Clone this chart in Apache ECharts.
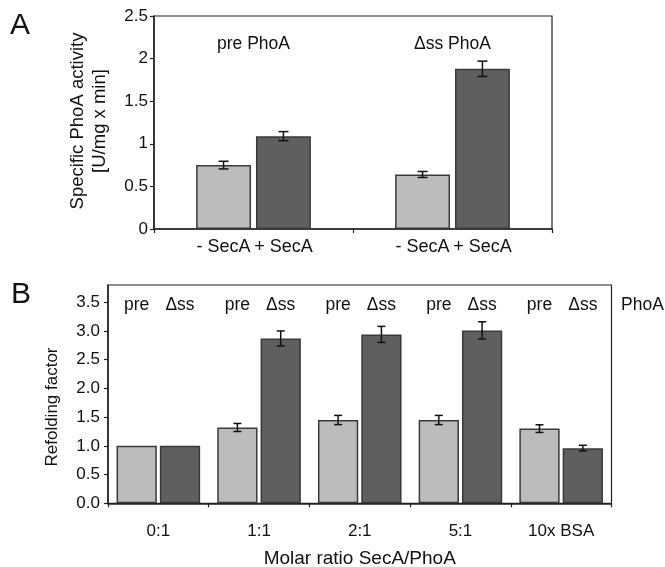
<!DOCTYPE html>
<html>
<head>
<meta charset="utf-8">
<script src="https://cdn.jsdelivr.net/npm/echarts@6/dist/echarts.min.js"></script>
<style>
  html, body { margin: 0; padding: 0; background: #fff; }
  #main { width: 665px; height: 567px; }
</style>
</head>
<body>
<div id="main"></div>
<script>
  // panel A - specific activity
  var groupsA = ['pre PhoA', '\u0394ss PhoA'];
  var subLabelsA = ['- SecA', '+ SecA'];
  var minusSecA = [0.75, 0.64];
  var minusSecAErr = [0.045, 0.035];
  var plusSecA = [1.09, 1.88];
  var plusSecAErr = [0.053, 0.09];
  var ticksA = [0, 0.5, 1, 1.5, 2, 2.5];

  // panel B - refolding factor
  var ratiosB = ['0:1', '1:1', '2:1', '5:1', '10x BSA'];
  var kindsB = ['pre', '\u0394ss'];
  var preB = [1.0, 1.32, 1.45, 1.45, 1.30];
  var preBErr = [0, 0.07, 0.08, 0.08, 0.067];
  var dssB = [1.0, 2.87, 2.94, 3.01, 0.96];
  var dssBErr = [0, 0.13, 0.14, 0.15, 0.05];
  var ticksB = [0, 0.5, 1, 1.5, 2, 2.5, 3, 3.5];

  var FONT = 'Liberation Sans, Arial, sans-serif';
  var LIGHT = '#bcbcbc';
  var DARK = '#5f5f5f';
  var EDGE = '#3a3a3a';
  var AXIS = '#222';

  // bar widths as fraction of the band, gap as fraction of bar width
  var barA = { w: 0.276, gap: 0.09 };
  var barB = { w: 0.40, gap: 0.075 };

  function barOffset(api, bar, side) {
    var bw = api.size([1, 0])[0];
    var w = bw * bar.w;
    return side * w * (1 + bar.gap) / 2;
  }

  function errorSeries(idx, values, errs, bar, side, capW) {
    return {
      type: 'custom',
      xAxisIndex: idx,
      yAxisIndex: idx,
      z: 5,
      data: values.map(function (v, i) { return [i, v, errs[i]]; }),
      renderItem: function (params, api) {
        var i = api.value(0), v = api.value(1), e = api.value(2);
        if (!e) return null;
        var x = api.coord([i, v])[0] + barOffset(api, bar, side);
        var yT = api.coord([i, v + e])[1];
        var yB = api.coord([i, v - e])[1];
        var st = { stroke: '#111', lineWidth: 1.5 };
        return {
          type: 'group',
          children: [
            { type: 'line', shape: { x1: x, y1: yT, x2: x, y2: yB }, style: st },
            { type: 'line', shape: { x1: x - capW / 2, y1: yT, x2: x + capW / 2, y2: yT }, style: st },
            { type: 'line', shape: { x1: x - capW / 2, y1: yB, x2: x + capW / 2, y2: yB }, style: st }
          ]
        };
      }
    };
  }

  function barSeries(idx, values, color, bar) {
    return {
      type: 'bar',
      xAxisIndex: idx,
      yAxisIndex: idx,
      data: values,
      barWidth: (bar.w * 100) + '%',
      barGap: (bar.gap * 100) + '%',
      itemStyle: { color: color, borderColor: EDGE, borderWidth: 1.5 },
      silent: true
    };
  }

  // texts placed per category: [catIndex, yValue, side, text, pixel dy]
  function textSeries(idx, items, bar, size) {
    return {
      type: 'custom',
      xAxisIndex: idx,
      yAxisIndex: idx,
      z: 6,
      clip: false,
      data: items.map(function (it) { return [it[0], it[1]]; }),
      renderItem: function (params, api) {
        var it = items[params.dataIndex];
        var p = api.coord([api.value(0), api.value(1)]);
        var dx = it[2] ? barOffset(api, bar, it[2]) : 0;
        return {
          type: 'text',
          x: p[0] + dx,
          y: p[1] + (it[4] || 0),
          style: {
            text: it[3], fill: '#111', font: size + 'px ' + FONT,
            align: 'center', verticalAlign: 'middle'
          }
        };
      }
    };
  }

  var groupLabelsA = groupsA.map(function (g, i) { return [i, 2.17, 0, g]; });
  var subLabelItemsA = [];
  groupsA.forEach(function (g, i) {
    subLabelItemsA.push([i, 0, -1, subLabelsA[0], 18]);
    subLabelItemsA.push([i, 0, 1, subLabelsA[1], 18]);
  });
  var kindLabelsB = [];
  ratiosB.forEach(function (r, i) {
    kindLabelsB.push([i, 3.45, -1, kindsB[0]]);
    kindLabelsB.push([i, 3.45, 1, kindsB[1]]);
  });

  function yAxisCfg(idx, max, ticks, margin, fmt) {
    return {
      gridIndex: idx,
      type: 'value',
      min: 0,
      max: max,
      interval: 0.5,
      axisLine: { show: true, lineStyle: { color: AXIS, width: 1.5 } },
      axisTick: { show: true, length: 4, lineStyle: { color: AXIS, width: 1.2 }, customValues: ticks },
      axisLabel: { color: '#111', fontSize: 17, fontFamily: FONT, margin: margin, customValues: ticks, formatter: fmt },
      splitLine: { show: false }
    };
  }

  var chart = echarts.init(document.getElementById('main'));
  chart.setOption({
    animation: false,
    backgroundColor: '#fff',
    grid: [
      { left: 154, top: 16, width: 398, height: 213, outerBoundsMode: 'none', show: true, borderColor: AXIS, borderWidth: 1.2, backgroundColor: 'transparent' },
      { left: 108, top: 285, width: 503.5, height: 218.3, outerBoundsMode: 'none', show: true, borderColor: AXIS, borderWidth: 1.2, backgroundColor: 'transparent' }
    ],
    xAxis: [
      {
        gridIndex: 0, type: 'category', data: groupsA,
        axisLine: { lineStyle: { color: AXIS, width: 1.5 } },
        axisTick: { show: true, length: 4, lineStyle: { color: AXIS, width: 1.2 } },
        axisLabel: { show: false }
      },
      {
        gridIndex: 1, type: 'category', data: ratiosB,
        axisLine: { lineStyle: { color: AXIS, width: 1.5 } },
        axisTick: { show: true, length: 4, lineStyle: { color: AXIS, width: 1.2 } },
        axisLabel: { color: '#111', fontSize: 17, fontFamily: FONT, margin: 20 },
        name: 'Molar ratio SecA/PhoA',
        nameLocation: 'middle',
        nameGap: 46,
        nameTextStyle: { color: '#111', fontSize: 19, fontFamily: FONT }
      }
    ],
    yAxis: [
      yAxisCfg(0, 2.5, ticksA, 6, function (v) { return String(v); }),
      yAxisCfg(1, 3.8, ticksB, 8, function (v) { return v.toFixed(1); })
    ],
    series: [
      barSeries(0, minusSecA, LIGHT, barA),
      barSeries(0, plusSecA, DARK, barA),
      errorSeries(0, minusSecA, minusSecAErr, barA, -1, 10),
      errorSeries(0, plusSecA, plusSecAErr, barA, 1, 10),
      textSeries(0, groupLabelsA, barA, 17.5),
      textSeries(0, subLabelItemsA, barA, 18),
      barSeries(1, preB, LIGHT, barB),
      barSeries(1, dssB, DARK, barB),
      errorSeries(1, preB, preBErr, barB, -1, 8),
      errorSeries(1, dssB, dssBErr, barB, 1, 8),
      textSeries(1, kindLabelsB, barB, 17.5)
    ],
    graphic: [
      { type: 'text', left: 10, top: 11, style: { text: 'A', font: '30px ' + FONT, fill: '#111' } },
      { type: 'text', left: 11, top: 280, style: { text: 'B', font: '30px ' + FONT, fill: '#111' } },
      { type: 'text', x: 78, y: 121, rotation: Math.PI / 2,
        style: { text: 'Specific PhoA activity', font: '18.5px ' + FONT, fill: '#111', align: 'center', verticalAlign: 'middle' } },
      { type: 'text', x: 100, y: 121, rotation: Math.PI / 2,
        style: { text: '[U/mg x min]', font: '18.5px ' + FONT, fill: '#111', align: 'center', verticalAlign: 'middle' } },
      { type: 'text', x: 52, y: 407, rotation: Math.PI / 2,
        style: { text: 'Refolding factor', font: '17px ' + FONT, fill: '#111', align: 'center', verticalAlign: 'middle' } },
      { type: 'text', x: 621, y: 305,
        style: { text: 'PhoA', font: '17.5px ' + FONT, fill: '#111', align: 'left', verticalAlign: 'middle' } }
    ]
  });
</script>
</body>
</html>
